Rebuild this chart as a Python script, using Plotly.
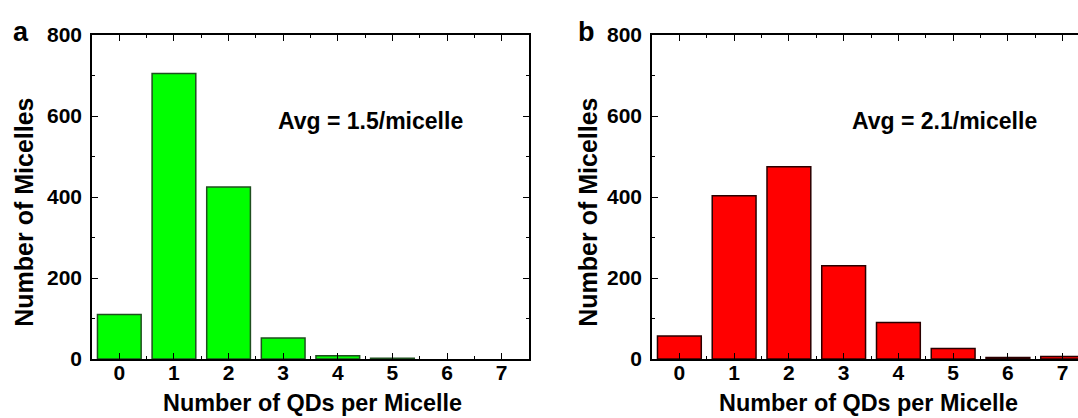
import plotly.graph_objects as go

qds = [0, 1, 2, 3, 4, 5, 6, 7]
tick_labels = ["0", "1", "2", "3", "4", "5", "6", "7"]
counts_a = [110, 705, 425, 52, 8, 2, 0, 0]
counts_b = [57, 403, 475, 230, 90, 26, 4, 6]
y_ticks = [0, 200, 400, 600, 800]
avg_a = "Avg = 1.5/micelle"
avg_b = "Avg = 2.1/micelle"
x_title = "Number of QDs per Micelle"
y_title = "Number of Micelles"

FONT = "Liberation Sans, Arial, sans-serif"
W, H = 1078, 418
top_px, bot_px = 34.5, 359


def px_x(x):
    return x / W


def px_y(y):
    return (bot_px - y) / (bot_px - top_px)


def outline_widths(vals):
    return [1.5 if v > 0 else 0 for v in vals]


fig = go.Figure()
fig.add_trace(go.Bar(x=qds, y=counts_a, width=0.8,
                     marker=dict(color="#00ff00", line=dict(color="#1f4f1f", width=outline_widths(counts_a))),
                     xaxis="x", yaxis="y", showlegend=False))
fig.add_trace(go.Bar(x=qds, y=counts_b, width=0.8,
                     marker=dict(color="#ff0000", line=dict(color="#2a0000", width=outline_widths(counts_b))),
                     xaxis="x2", yaxis="y2", showlegend=False))

tickfont = dict(family=FONT, size=21, color="black", weight="bold")
common_x = dict(tickmode="array", tickvals=qds, ticktext=tick_labels, ticks="inside", ticklen=6, tickwidth=1.2,
                tickcolor="black", showline=True, linecolor="black", linewidth=1.5, mirror="allticks",
                showgrid=False, zeroline=False, tickfont=tickfont, ticklabelstandoff=-6,
                minor=dict(dtick=0.5, tick0=0.5, ticks="inside", ticklen=3, tickcolor="black", tickwidth=1.2, showgrid=False))
common_y = dict(range=[0, 800], tickmode="array", tickvals=y_ticks, ticks="inside", ticklen=6, tickwidth=1.2,
                tickcolor="black", showline=True, linecolor="black", linewidth=1.5,
                showgrid=False, zeroline=False, tickfont=tickfont, ticklabelstandoff=4,
                minor=dict(dtick=100, tick0=0, ticks="inside", ticklen=3, tickcolor="black", tickwidth=1.2, showgrid=False))

fig.update_layout(
    width=W, height=H, margin=dict(l=0, r=0, t=top_px, b=H - bot_px),
    paper_bgcolor="white", plot_bgcolor="white", bargap=0.2,
    xaxis=dict(domain=[92 / W, 529 / W], range=[-0.5, 7.5], anchor="y", **common_x),
    yaxis=dict(domain=[0, 1], anchor="x", mirror="allticks", **common_y),
    xaxis2=dict(domain=[652 / W, 1.0], range=[-0.5, 7.28], anchor="y2", **common_x),
    yaxis2=dict(domain=[0, 1], anchor="x2", mirror=False, **common_y),
)

ann_font = dict(family=FONT, size=23, color="black", weight="bold")
xtitle_font = dict(family=FONT, size=23.4, color="black", weight="bold")
ytitle_font = dict(family=FONT, size=25, color="black", weight="bold")
label_font = dict(family=FONT, size=27, color="black", weight="bold")
annotations = [
    dict(text=avg_a, x=4.59, y=587, xref="x", yref="y", showarrow=False, font=ann_font, xanchor="center", yanchor="middle"),
    dict(text=avg_b, x=4.84, y=587, xref="x2", yref="y2", showarrow=False, font=ann_font, xanchor="center", yanchor="middle"),
    dict(text=x_title, x=px_x(312), y=px_y(403), xref="paper", yref="paper", showarrow=False, font=xtitle_font,
         xanchor="center", yanchor="middle"),
    dict(text=x_title, x=px_x(868), y=px_y(403), xref="paper", yref="paper", showarrow=False, font=xtitle_font,
         xanchor="center", yanchor="middle"),
    dict(text=y_title, x=px_x(24), y=px_y(212.5), xref="paper", yref="paper", showarrow=False, font=ytitle_font,
         textangle=-90, xanchor="center", yanchor="middle"),
    dict(text=y_title, x=px_x(588), y=px_y(212.5), xref="paper", yref="paper", showarrow=False, font=ytitle_font,
         textangle=-90, xanchor="center", yanchor="middle"),
    dict(text="a", x=px_x(21), y=px_y(31), xref="paper", yref="paper", showarrow=False, font=label_font,
         xanchor="center", yanchor="middle"),
    dict(text="b", x=px_x(586), y=px_y(31), xref="paper", yref="paper", showarrow=False, font=label_font,
         xanchor="center", yanchor="middle"),
]
fig.update_layout(annotations=annotations)

fig.write_html("out.html", config={"displayModeBar": False},
               post_script="document.body.style.margin='0';document.body.style.overflow='hidden';")
